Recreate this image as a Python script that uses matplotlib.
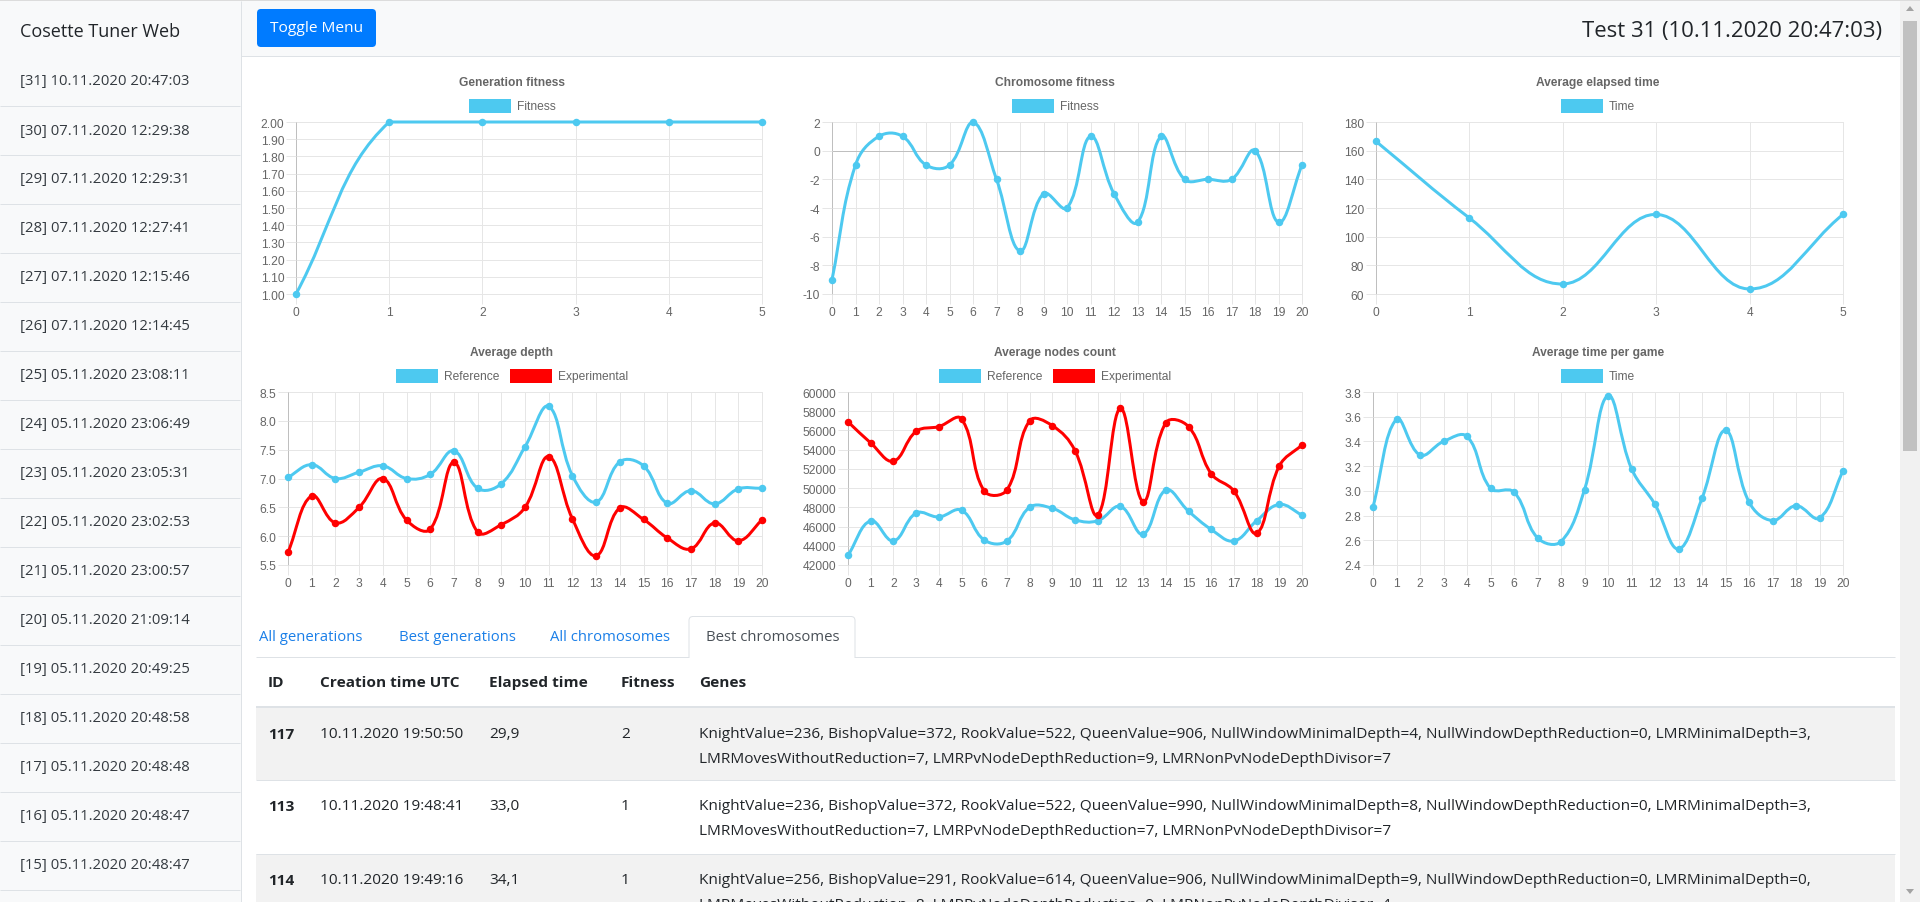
import numpy as np
import matplotlib
matplotlib.use("Agg")
import matplotlib.pyplot as plt
from matplotlib.path import Path
from matplotlib.patches import PathPatch, Rectangle, FancyBboxPatch, Polygon

plt.rcParams['font.family'] = ['Liberation Sans', 'DejaVu Sans']

# ---------------- data ----------------
gen_x = [0, 1, 2, 3, 4, 5]
gen_fitness = [1.0, 2.0, 2.0, 2.0, 2.0, 2.0]
gen_yticks = [1.0, 1.1, 1.2, 1.3, 1.4, 1.5, 1.6, 1.7, 1.8, 1.9, 2.0]

chrom_x = list(range(21))
chrom_fitness = [-9, -1, 1, 1, -1, -1, 2, -2, -7, -3, -4, 1, -3, -5, 1, -2, -2, -2, 0, -5, -1]
chrom_yticks = [-10, -8, -6, -4, -2, 0, 2]

elapsed_x = [0, 1, 2, 3, 4, 5]
elapsed_time = [166.5, 113, 67, 115.5, 63.5, 115.5]
elapsed_yticks = [60, 80, 100, 120, 140, 160, 180]

depth_x = list(range(21))
depth_reference = [7.02, 7.24, 7.0, 7.11, 7.22, 7.0, 7.07, 7.48, 6.83, 6.91, 7.55, 8.25,
                   7.05, 6.59, 7.29, 7.22, 6.57, 6.79, 6.56, 6.82, 6.83]
depth_experimental = [5.72, 6.70, 6.23, 6.5, 7.0, 6.28, 6.12, 7.28, 6.07, 6.2, 6.5, 7.38,
                      6.3, 5.66, 6.49, 6.29, 5.97, 5.78, 6.23, 5.92, 6.28]
depth_yticks = [5.5, 6.0, 6.5, 7.0, 7.5, 8.0, 8.5]

nodes_x = list(range(21))
nodes_reference = [43000, 46600, 44500, 47400, 47000, 47700, 44600, 44500, 48000, 47900, 46700,
                   46600, 48100, 45200, 49800, 47600, 45700, 44500, 46600, 48300, 47200]
nodes_experimental = [56900, 54700, 52800, 55900, 56400, 57200, 49700, 49800, 57000, 56500, 53900,
                      47200, 58300, 48600, 56800, 56400, 51500, 49700, 45300, 52300, 54500]
nodes_yticks = [42000, 44000, 46000, 48000, 50000, 52000, 54000, 56000, 58000, 60000]

tpg_x = list(range(21))
time_per_game = [2.87, 3.58, 3.29, 3.40, 3.44, 3.02, 2.99, 2.62, 2.59, 3.01, 3.77, 3.18,
                 2.89, 2.53, 2.94, 3.49, 2.91, 2.76, 2.88, 2.78, 3.16]
tpg_yticks = [2.4, 2.6, 2.8, 3.0, 3.2, 3.4, 3.6, 3.8]

sidebar_items = [
    "[31] 10.11.2020 20:47:03", "[30] 07.11.2020 12:29:38", "[29] 07.11.2020 12:29:31",
    "[28] 07.11.2020 12:27:41", "[27] 07.11.2020 12:15:46", "[26] 07.11.2020 12:14:45",
    "[25] 05.11.2020 23:08:11", "[24] 05.11.2020 23:06:49", "[23] 05.11.2020 23:05:31",
    "[22] 05.11.2020 23:02:53", "[21] 05.11.2020 23:00:57", "[20] 05.11.2020 21:09:14",
    "[19] 05.11.2020 20:49:25", "[18] 05.11.2020 20:48:58", "[17] 05.11.2020 20:48:48",
    "[16] 05.11.2020 20:48:47", "[15] 05.11.2020 20:48:47",
]

tab_labels = ["All generations", "Best generations", "All chromosomes", "Best chromosomes"]
table_header = ["ID", "Creation time UTC", "Elapsed time", "Fitness", "Genes"]
row_ids = ["117", "113", "114"]
row_times = ["10.11.2020 19:50:50", "10.11.2020 19:48:41", "10.11.2020 19:49:16"]
row_elapsed = ["29,9", "33,0", "34,1"]
row_fitness = ["2", "1", "1"]
row_genes = [
    ["KnightValue=236, BishopValue=372, RookValue=522, QueenValue=906, NullWindowMinimalDepth=4, NullWindowDepthReduction=0, LMRMinimalDepth=3,",
     "LMRMovesWithoutReduction=7, LMRPvNodeDepthReduction=9, LMRNonPvNodeDepthDivisor=7"],
    ["KnightValue=236, BishopValue=372, RookValue=522, QueenValue=990, NullWindowMinimalDepth=8, NullWindowDepthReduction=0, LMRMinimalDepth=3,",
     "LMRMovesWithoutReduction=7, LMRPvNodeDepthReduction=7, LMRNonPvNodeDepthDivisor=7"],
    ["KnightValue=256, BishopValue=291, RookValue=614, QueenValue=906, NullWindowMinimalDepth=9, NullWindowDepthReduction=0, LMRMinimalDepth=0,",
     "LMRMovesWithoutReduction=8, LMRPvNodeDepthReduction=9, LMRNonPvNodeDepthDivisor=4"],
]

# ---------------- styling ----------------
BLUE = '#4dc9f0'
RED = '#ff0000'
GRID = '#e6e6e6'
ZERO = '#bfbfbf'
TICKC = '#666666'
PAGE_FONT = ['Open Sans', 'DejaVu Sans']
CHART_FONT = ['Liberation Sans', 'DejaVu Sans']
PX = 0.72  # points per pixel at dpi 100

FW, FH = 1920, 903
fig = plt.figure(figsize=(FW / 100, FH / 100), dpi=100)
fig.patch.set_facecolor('white')
bg = fig.add_axes([0, 0, 1, 1])
bg.set_xlim(0, FW)
bg.set_ylim(FH, 0)
bg.axis('off')
renderer = fig.canvas.get_renderer()


def rect(x0, y0, x1, y1, color, z=1):
    bg.add_patch(Rectangle((x0, y0), x1 - x0, y1 - y0, facecolor=color, edgecolor='none', zorder=z))


def hline(y, x0, x1, color, lw=1, z=2):
    bg.plot([x0, x1], [y, y], color=color, lw=lw * PX, zorder=z, solid_capstyle='butt')


def vline(x, y0, y1, color, lw=1, z=2):
    bg.plot([x, x], [y0, y1], color=color, lw=lw * PX, zorder=z, solid_capstyle='butt')


def text_width(s, size, family, weight='normal'):
    t = bg.text(0, 0, s, fontsize=size, family=family, weight=weight)
    w = t.get_window_extent(renderer).width
    t.remove()
    return w


def fit_size(s, width, family, weight='normal', base=11.5):
    return base * width / text_width(s, base, family, weight)


# ---------------- page chrome ----------------
rect(0, 0, FW, 2, '#dcdcdc', z=3)
rect(0, 2, 241, FH, '#f8f9fa')
vline(240.5, 2, FH, '#dee2e6')
rect(241, 2, 1900, 57, '#f8f9fa')
hline(57, 241, 1900, '#dee2e6')

# sidebar
s_title = fit_size("Cosette Tuner Web", 161, PAGE_FONT)
bg.text(20, 32, "Cosette Tuner Web", fontsize=s_title, family=PAGE_FONT, color='#212529',
        va='center', ha='left', zorder=5)
s_item = fit_size(sidebar_items[0], 169, PAGE_FONT)
for i, s in enumerate(sidebar_items):
    y = 82 + 49 * i
    bg.text(20, y, s, fontsize=s_item, family=PAGE_FONT, color='#343a40', va='center', ha='left', zorder=5)
    hline(107 + 49 * i, 0, 240, '#dee2e6')

# header
bg.add_patch(FancyBboxPatch((257, 10), 119, 38, boxstyle='round,pad=0,rounding_size=4',
                            facecolor='#007bff', edgecolor='none', zorder=4))
s_btn = fit_size("Toggle Menu", 93, PAGE_FONT)
bg.text(316.5, 29, "Toggle Menu", fontsize=s_btn, family=PAGE_FONT, color='white',
        va='center', ha='center', zorder=5)
head_title = "Test 31 (10.11.2020 20:47:03)"
s_head = fit_size(head_title, 299, PAGE_FONT, weight='medium')
bg.text(1882, 32, head_title, fontsize=s_head, family=PAGE_FONT, weight='medium', color='#212529',
        va='center', ha='right', zorder=5)

# scrollbar
rect(1900, 2, FW, FH, '#f1f1f1', z=2)
rect(1903, 22, 1917, 452, '#c1c1c1', z=3)
bg.add_patch(Polygon([[1906, 12], [1914, 12], [1910, 7]], closed=True, facecolor='#a3a3a3',
                     edgecolor='none', zorder=3))
bg.add_patch(Polygon([[1906, 890], [1914, 890], [1910, 895]], closed=True, facecolor='#a3a3a3',
                     edgecolor='none', zorder=3))


# ---------------- charts ----------------
def chartjs_path(xs, ys, xlim, ylim, wpx, hpx, t=0.4):
    px = [(x - xlim[0]) / (xlim[1] - xlim[0]) * wpx for x in xs]
    py = [(y - ylim[0]) / (ylim[1] - ylim[0]) * hpx for y in ys]
    n = len(px)
    cprev, cnext = [], []
    for i in range(n):
        p = (px[max(i - 1, 0)], py[max(i - 1, 0)])
        c = (px[i], py[i])
        q = (px[min(i + 1, n - 1)], py[min(i + 1, n - 1)])
        d01 = np.hypot(c[0] - p[0], c[1] - p[1])
        d12 = np.hypot(q[0] - c[0], q[1] - c[1])
        s = d01 + d12
        s01 = d01 / s if s else 0.0
        s12 = d12 / s if s else 0.0
        fa, fb = t * s01, t * s12
        a = (c[0] - fa * (q[0] - p[0]), c[1] - fa * (q[1] - p[1]))
        b = (c[0] + fb * (q[0] - p[0]), c[1] + fb * (q[1] - p[1]))
        a = (min(max(a[0], 0), wpx), min(max(a[1], 0), hpx))
        b = (min(max(b[0], 0), wpx), min(max(b[1], 0), hpx))
        cprev.append(a)
        cnext.append(b)
    verts = [(px[0], py[0])]
    codes = [Path.MOVETO]
    for i in range(1, n):
        verts += [cnext[i - 1], cprev[i], (px[i], py[i])]
        codes += [Path.CURVE4] * 3
    data = [(xlim[0] + vx / wpx * (xlim[1] - xlim[0]), ylim[0] + vy / hpx * (ylim[1] - ylim[0]))
            for vx, vy in verts]
    return Path(data, codes)


def draw_legend(cx, y, items):
    fs = 12 * PX
    widths = [text_width(lab, fs, CHART_FONT) for lab, _ in items]
    bw, bh, gap, sep = 42, 14, 6, 10
    total = sum(bw + gap + w for w in widths) + sep * (len(items) - 1)
    x = cx - total / 2
    for (lab, col), w in zip(items, widths):
        bg.add_patch(Rectangle((x, y - bh / 2), bw, bh, facecolor=col, edgecolor='none', zorder=5))
        bg.text(x + bw + gap, y, lab, fontsize=fs, family=CHART_FONT, color=TICKC, va='center',
                ha='left', zorder=5)
        x += bw + gap + w + sep


def draw_chart(box, title, cx, ty, xs, series, yticks, ylabels):
    x0, y0, x1, y1 = box
    ax = fig.add_axes([x0 / FW, 1 - y1 / FH, (x1 - x0) / FW, (y1 - y0) / FH])
    ax.set_facecolor('none')
    xlim = (xs[0], xs[-1])
    ylim = (yticks[0], yticks[-1])
    ax.set_xlim(*xlim)
    ax.set_ylim(*ylim)
    for sp in ax.spines.values():
        sp.set_visible(False)
    ax.set_xticks(xs)
    ax.set_xticklabels([str(v) for v in xs])
    ax.set_yticks(yticks)
    ax.set_yticklabels(ylabels)
    ax.tick_params(axis='both', length=10 * PX, width=PX, color=GRID, labelsize=12 * PX,
                   labelcolor=TICKC, pad=1.2)
    for xv in xs:
        ax.axvline(xv, color=GRID, lw=PX, zorder=0, clip_on=False)
    for yv in yticks:
        ax.axhline(yv, color=GRID, lw=PX, zorder=0, clip_on=False)
    ax.axvline(xs[0], color=ZERO, lw=PX, zorder=0.5, clip_on=False)
    if ylim[0] < 0 < ylim[1]:
        ax.axhline(0, color=ZERO, lw=PX, zorder=0.5, clip_on=False)
    wpx, hpx = x1 - x0, y1 - y0
    for ys, col, lab in series:
        path = chartjs_path(xs, ys, xlim, ylim, wpx, hpx)
        ax.add_patch(PathPatch(path, facecolor='none', edgecolor=col, lw=3 * PX, zorder=3,
                               clip_on=False, capstyle='round', joinstyle='round'))
        ax.scatter(xs, ys, s=(7.5 * PX) ** 2, color=col, zorder=4, clip_on=False, linewidths=0)
    bg.text(cx, ty, title, fontsize=12 * PX, family=CHART_FONT, weight='bold', color=TICKC,
            ha='center', va='center', zorder=5)
    draw_legend(cx, ty + 24, [(lab, col) for _, col, lab in series])


draw_chart((296, 123, 762, 295), "Generation fitness", 512, 83, gen_x,
           [(gen_fitness, BLUE, "Fitness")], gen_yticks, ["%.2f" % v for v in gen_yticks])
draw_chart((832, 123, 1302, 295), "Chromosome fitness", 1055, 83, chrom_x,
           [(chrom_fitness, BLUE, "Fitness")], chrom_yticks, ["%d" % v for v in chrom_yticks])
draw_chart((1376, 123, 1843, 295), "Average elapsed time", 1598, 83, elapsed_x,
           [(elapsed_time, BLUE, "Time")], elapsed_yticks, ["%d" % v for v in elapsed_yticks])
draw_chart((288, 393, 762, 566), "Average depth", 512, 353, depth_x,
           [(depth_reference, BLUE, "Reference"), (depth_experimental, RED, "Experimental")],
           depth_yticks, ["%.1f" % v for v in depth_yticks])
draw_chart((848, 393, 1302, 566), "Average nodes count", 1055, 353, nodes_x,
           [(nodes_reference, BLUE, "Reference"), (nodes_experimental, RED, "Experimental")],
           nodes_yticks, ["%d" % v for v in nodes_yticks])
draw_chart((1373, 393, 1843, 566), "Average time per game", 1598, 353, tpg_x,
           [(time_per_game, BLUE, "Time")], tpg_yticks, ["%.1f" % v for v in tpg_yticks])

# ---------------- tabs ----------------
hline(658, 256, 1895, '#dee2e6')
bg.add_patch(FancyBboxPatch((689, 617.5), 166, 45, boxstyle='round,pad=0,rounding_size=4',
                            facecolor='white', edgecolor='#dee2e6', lw=PX, zorder=3))
rect(688, 658.6, 856, 664, 'white', z=3.5)
s_tab = fit_size("All chromosomes", 121, PAGE_FONT)
tab_x = [259, 399, 550, 706]
for lab, x in zip(tab_labels, tab_x):
    col = '#495057' if lab == "Best chromosomes" else '#1a7fe8'
    bg.text(x, 638, lab, fontsize=s_tab, family=PAGE_FONT, color=col, va='center', ha='left', zorder=5)

# ---------------- table ----------------
col_x = [268, 320, 489, 621, 699]
s_body = fit_size(row_genes[0][0], 1107, PAGE_FONT)
for lab, x in zip(table_header, col_x):
    bg.text(x, 683, lab, fontsize=s_body, family=PAGE_FONT, weight='bold', color='#212529',
            va='center', ha='left', zorder=5)
hline(708, 256, 1895, '#dee2e6', lw=2)
row_top = [709, 781, 855]
row_bot = [781, 855, 903]
for i in range(3):
    if i % 2 == 0:
        rect(256, row_top[i], 1895, row_bot[i], '#f2f2f2')
    if i > 0:
        hline(row_top[i], 256, 1895, '#dee2e6')
    yl = row_top[i] + 26
    bg.text(col_x[0], yl, row_ids[i], fontsize=s_body, family=PAGE_FONT, weight='bold',
            color='#212529', va='center', ha='left', zorder=5)
    bg.text(col_x[1], yl, row_times[i], fontsize=s_body, family=PAGE_FONT, color='#212529',
            va='center', ha='left', zorder=5)
    bg.text(col_x[2], yl, row_elapsed[i], fontsize=s_body, family=PAGE_FONT, color='#212529',
            va='center', ha='left', zorder=5)
    bg.text(col_x[3], yl, row_fitness[i], fontsize=s_body, family=PAGE_FONT, color='#212529',
            va='center', ha='left', zorder=5)
    for k, line in enumerate(row_genes[i]):
        bg.text(col_x[4], yl + 24.5 * k, line, fontsize=s_body, family=PAGE_FONT, color='#212529',
                va='center', ha='left', zorder=5, clip_on=True)

fig.savefig("out.png", dpi=100, facecolor='white')
